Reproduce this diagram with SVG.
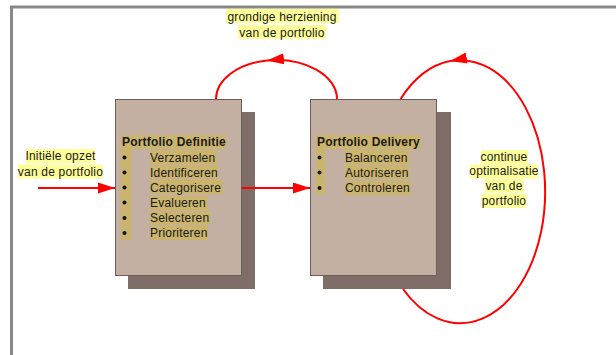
<svg xmlns="http://www.w3.org/2000/svg" width="616" height="355" viewBox="0 0 616 355">
<style>
text{font-family:"Liberation Sans",Arial,sans-serif;font-size:12px;fill:#1a1a1a;letter-spacing:0.2px}
.t{font-weight:bold}
.m{text-anchor:middle}
.hl{fill:#FFFF99}
.hb{fill:#CBB46C}
.box{fill:#C4B0A3;stroke:#6E5E57;stroke-width:1}
.sh{fill:#7F6E67}
.c{fill:none;stroke:#FF0000;stroke-width:2}
.dot{fill:#111}
</style>
<defs>
<marker id="ah" markerUnits="userSpaceOnUse" markerWidth="18" markerHeight="12" refX="17" refY="5.5" orient="auto">
<path d="M0,0 L17,5.5 L0,11 z" fill="#FF0000"/>
</marker>
</defs>
<rect x="0" y="0" width="616" height="355" fill="#fff"/>
<path d="M11.5,355 V7 H616" fill="none" stroke="#888" stroke-width="3"/>

<g id="node-definitie">
<rect class="sh" x="128" y="112" width="127" height="177"/>
<rect class="box" x="115.5" y="99.5" width="126" height="176"/>
<rect class="hb" x="121" y="135" width="105" height="14"/>
<rect class="hb" x="121" y="149" width="10.5" height="91"/>
<rect class="hb" x="150" y="150" width="67" height="14"/>
<rect class="hb" x="150" y="165" width="68" height="14"/>
<rect class="hb" x="150" y="180" width="73" height="14"/>
<rect class="hb" x="150" y="196" width="58" height="14"/>
<rect class="hb" x="150" y="211" width="60" height="14"/>
<rect class="hb" x="150" y="226" width="58" height="14"/>
<text class="t" x="122" y="146">Portfolio Definitie</text>
<circle class="dot" cx="124.5" cy="157.5" r="2"/>
<circle class="dot" cx="124.5" cy="172.5" r="2"/>
<circle class="dot" cx="124.5" cy="187.5" r="2"/>
<circle class="dot" cx="124.5" cy="202.5" r="2"/>
<circle class="dot" cx="124.5" cy="218" r="2"/>
<circle class="dot" cx="124.5" cy="233" r="2"/>
<text x="150" y="161.5">Verzamelen</text>
<text x="150" y="176.5">Identificeren</text>
<text x="150" y="191.5">Categorisere</text>
<text x="150" y="207">Evalueren</text>
<text x="150" y="222">Selecteren</text>
<text x="150" y="237">Prioriteren</text>
</g>

<g id="node-delivery">
<rect class="sh" x="323" y="112" width="128" height="177"/>
<rect class="box" x="310.5" y="99.5" width="126" height="176"/>
<rect class="hb" x="316" y="135" width="105" height="14"/>
<rect class="hb" x="316" y="149" width="9" height="45"/>
<rect class="hb" x="345" y="150" width="64" height="14"/>
<rect class="hb" x="345" y="165" width="64" height="14"/>
<rect class="hb" x="345" y="181" width="66" height="14"/>
<text class="t" x="317" y="146">Portfolio Delivery</text>
<circle class="dot" cx="319.5" cy="157.5" r="2"/>
<circle class="dot" cx="319.5" cy="172.5" r="2"/>
<circle class="dot" cx="319.5" cy="188" r="2"/>
<text x="345" y="161.5">Balanceren</text>
<text x="345" y="176.5">Autoriseren</text>
<text x="345" y="192">Controleren</text>
</g>

<g id="label-herziening">
<rect class="hl" x="226" y="9" width="113" height="14"/>
<rect class="hl" x="238" y="25" width="88" height="14"/>
<text class="m" x="282" y="20.5">grondige herziening</text>
<text class="m" x="282" y="36.5">van de portfolio</text>
</g>

<g id="label-opzet">
<rect class="hl" x="26" y="149" width="69" height="14"/>
<rect class="hl" x="18" y="164.5" width="85" height="14"/>
<text class="m" x="60.5" y="160">Initiële opzet</text>
<text class="m" x="60.5" y="175.5">van de portfolio</text>
</g>

<g id="label-optimalisatie">
<rect class="hl" x="481" y="150" width="47" height="14"/>
<rect class="hl" x="470" y="164.5" width="68" height="14"/>
<rect class="hl" x="485" y="179" width="39" height="14"/>
<rect class="hl" x="481.5" y="194" width="45" height="14"/>
<text class="m" x="504" y="160.5">continue</text>
<text class="m" x="504" y="175">optimalisatie</text>
<text class="m" x="504" y="189.5">van de</text>
<text class="m" x="504" y="204.5">portfolio</text>
</g>

<g id="connectors">
<path class="c" d="M38,188 H115" marker-end="url(#ah)"/>
<path class="c" d="M242,188 H310" marker-end="url(#ah)"/>
<path class="c" d="M337,99 A60.5,39 0 0 0 267,60.5" marker-end="url(#ah)"/>
<path class="c" d="M267,60.5 A60.5,39 0 0 0 216,99"/>
<path class="c" d="M403,289 A85,131.5 0 1 0 450,61.1" marker-end="url(#ah)"/>
<path class="c" d="M450,61.1 A85,131.5 0 0 0 400.6,99"/>
</g>
</svg>
